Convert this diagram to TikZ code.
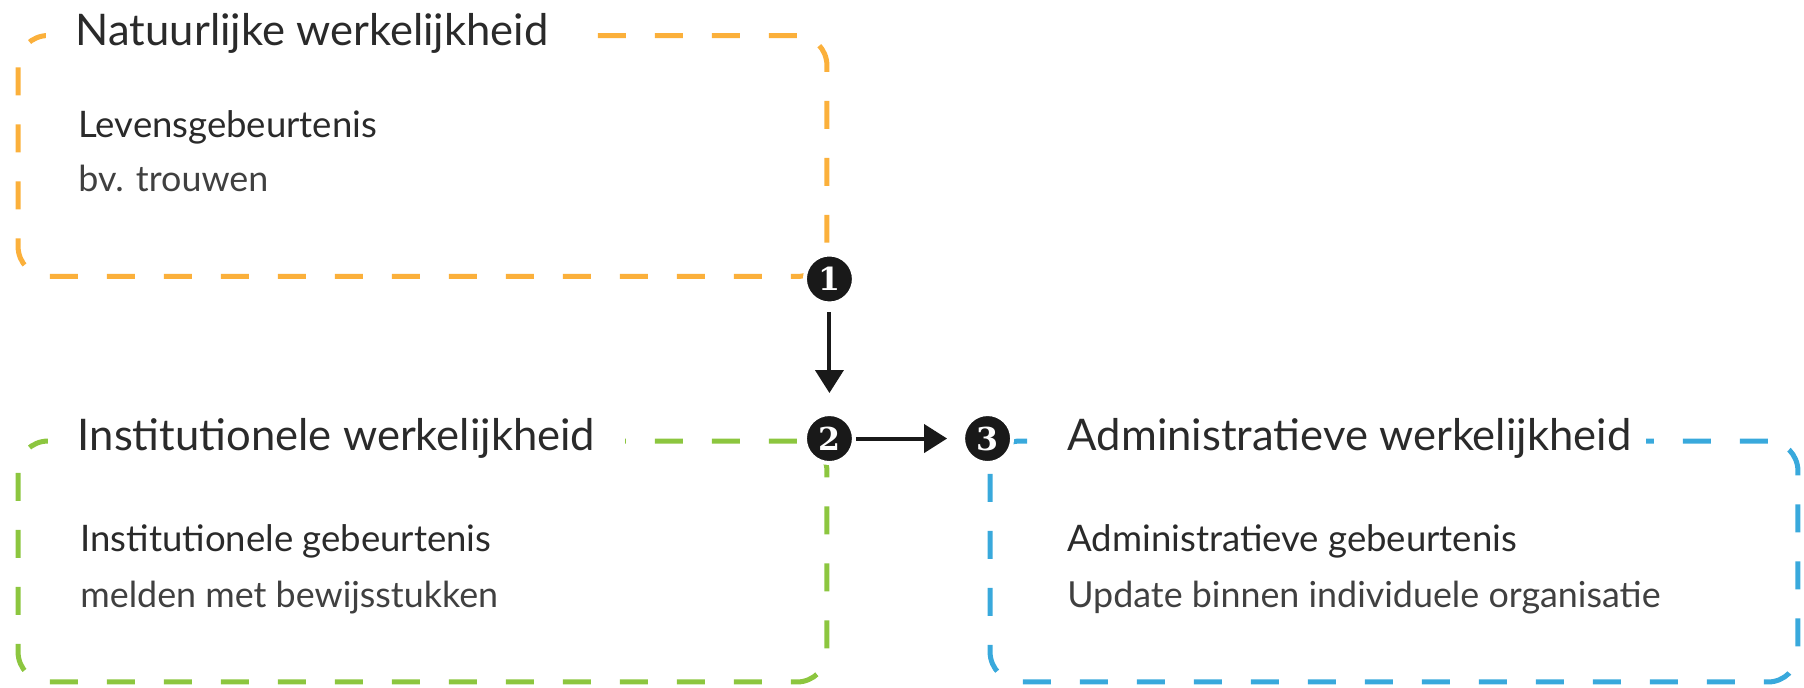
\documentclass[tikz,border=0pt]{standalone}
\usepackage{fontspec}
\setmainfont{Lato}
\newfontfamily\numfont{DejaVu Serif}
\usetikzlibrary{positioning,arrows.meta}

\definecolor{natc}{HTML}{FBB03B}
\definecolor{instc}{HTML}{8CC63F}
\definecolor{admc}{HTML}{39A9DC}
\definecolor{txtc}{HTML}{2A2A2A}
\definecolor{subc}{HTML}{404040}

\tikzset{
  frame/.style={draw, line width=0.1cm, dash pattern=on 0.56cm off 0.58cm,
    rounded corners=0.6cm, minimum width=16.18cm, minimum height=4.82cm},
  title/.style={fill=white, inner xsep=0.3cm, inner ysep=0.1cm, text=txtc,
    font=\fontsize{24.8}{29}\selectfont},
  event/.style={inner sep=0pt, text=txtc, font=\fontsize{20.8}{25}\selectfont, anchor=west},
  note/.style={inner sep=0pt, text=subc, font=\fontsize{20.4}{24}\selectfont},
  num/.style={circle, fill=black!90, draw=white, line width=0.08cm, minimum size=0.98cm,
    inner sep=0pt, text=white, font=\numfont\bfseries\fontsize{18}{18}\selectfont},
  flow/.style={-{Triangle[width=0.56cm,length=0.46cm]}, line width=0.08cm, black!90}
}

\begin{document}
\begin{tikzpicture}[x=0.02cm, y=-0.02cm]
    \useasboundingbox (0,0) rectangle (1804,687);

    \node[frame, draw=natc]  (nat)  at (422.5,156) {};
    \node[frame, draw=instc] (inst) at (422.5,561.5) {};
    \node[frame, draw=admc, minimum width=16.16cm] (adm) at (1394,561.5) {};

    \node[title, inner xsep=0.6cm, right=0.6cm of nat.north west]  (nattitle)  {Natuurlijke werkelijkheid};
    \node[title, inner xsep=0.6cm, right=0.64cm of inst.north west] (insttitle) {Institutionele werkelijkheid};
    \node[title, right=1.3cm of adm.north west]  (admtitle)  {Administratieve werkelijkheid};

    \node[event] (lev)  at (78,127)   {Levensgebeurtenis};
    \node[event] (inev) at (80,541)   {Institutionele gebeurtenis};
    \node[event] (adev) at (1067,541) {Administratieve gebeurtenis};

    \node[note, below=1.02cm of lev.west, anchor=west]  (levnote) {bv. trouwen};
    \node[note, below=1.14cm of inev.west, anchor=west] (innote)  {melden met bewijsstukken};
    \node[note, below=1.14cm of adev.west, anchor=west] (adnote)  {Update binnen individuele organisatie};

    \node[num] (n1) at (nat.south east)  {1};
    \node[num] (n2) at (inst.north east) {2};
    \node[num] (n3) at (adm.north west)  {3};

    \draw[flow, shorten <=0.14cm, shorten >=0.38cm] (n1) -- (n2);
    \draw[flow, shorten >=0.28cm] (n2) -- (n3);
\end{tikzpicture}
\end{document}
